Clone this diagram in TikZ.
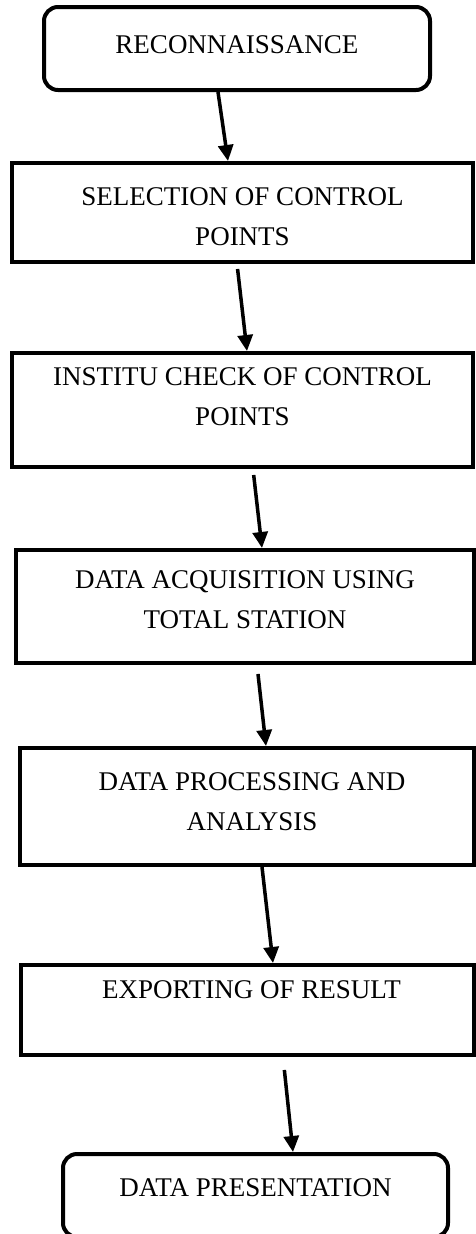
\documentclass[tikz,border=0pt]{standalone}
\usepackage{fontspec}
\setmainfont{Liberation Serif}
\usetikzlibrary{arrows.meta}

\tikzset{
  stepbox/.style={draw, line width=4pt, inner sep=0pt},
  endbox/.style={stepbox, rounded corners=14pt},
  steptext/.style={anchor=north, inner sep=0pt, align=center, font=\fontsize{27}{40}\selectfont},
  flowarrow/.style={line width=3.5pt, -{Triangle[length=16pt,width=15pt]}},
}

\begin{document}
\begin{tikzpicture}[x=1pt,y=-1pt]
        \useasboundingbox (0,0) rectangle (475,1234);
        % steps of the survey
        \node[endbox, minimum width=386pt, minimum height=83pt, label={[steptext, yshift=-30pt]north:RECONNAISSANCE}] (recon) at (237,48.5) {};
        \node[stepbox, minimum width=461pt, minimum height=99pt, label={[steptext, yshift=-26pt]north:SELECTION OF CONTROL\\POINTS}] (sel) at (242.5,212.5) {};
        \node[stepbox, minimum width=461pt, minimum height=114pt, label={[steptext, yshift=-16pt]north:INSTITU CHECK OF CONTROL\\POINTS}] (ins) at (242.5,410) {};
        \node[stepbox, minimum width=458pt, minimum height=113pt, label={[steptext, yshift=-22pt]north:DATA ACQUISITION USING\\TOTAL STATION}] (acq) at (245,606.5) {};
        \node[stepbox, minimum width=454pt, minimum height=117pt, label={[steptext, yshift=-26pt, xshift=5pt]north:DATA PROCESSING AND\\ANALYSIS}] (proc) at (247,806.5) {};
        \node[stepbox, minimum width=453pt, minimum height=90pt, label={[steptext, yshift=-17pt, xshift=4pt]north:EXPORTING OF RESULT}] (exp) at (247.5,1010) {};
        \node[endbox, minimum width=385pt, minimum height=83pt, label={[steptext, yshift=-26pt]north:DATA PRESENTATION}] (pres) at (255.5,1195.5) {};
        % arrows between the steps
        \foreach \from/\to/\dx/\dy/\gap in {recon/sel/-19/-14.5/0, sel/ins/-5.5/4.5/5, ins/acq/10.5/17/6, acq/proc/12/19/9, proc/exp/15/25.5/0, exp/pres/35.5/37.5/13}{
            \draw[flowarrow, shorten <=\gap pt] ([xshift=\dx pt]\from.south) -- ([xshift=\dy pt]\to.north);
        }
    \end{tikzpicture}
\end{document}
